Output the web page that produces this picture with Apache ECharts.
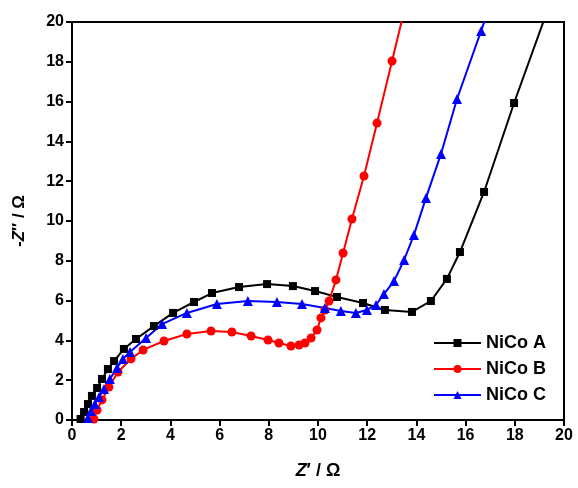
<!DOCTYPE html>
<html><head><meta charset="utf-8">
<script src="https://cdn.jsdelivr.net/npm/echarts@6/dist/echarts.min.js"></script>
<style>html,body{margin:0;padding:0;background:#fff}#c{width:578px;height:488px}</style>
</head><body><div id="c"></div>
<script>
var seriesNames = ['NiCo A', 'NiCo B', 'NiCo C'];
var xTicks = [0, 2, 4, 6, 8, 10, 12, 14, 16, 18, 20];
var yTicks = [0, 2, 4, 6, 8, 10, 12, 14, 16, 18, 20];

var nicoA_x = [0.35,0.49,0.65,0.81,1.02,1.22,1.46,1.71,2.11,2.60,3.33,4.11,4.96,5.69,6.79,7.93,8.98,9.88,10.77,11.83,12.72,13.82,14.59,15.24,15.77,16.75,17.97,19.45];
var nicoA_y = [0.05,0.40,0.80,1.21,1.61,2.06,2.56,2.96,3.57,4.07,4.72,5.38,5.93,6.38,6.68,6.83,6.73,6.48,6.18,5.88,5.53,5.43,5.98,7.09,8.44,11.46,15.93,21.0];

var nicoB_x = [0.89,1.02,1.22,1.50,1.87,2.40,2.89,3.74,4.67,5.65,6.50,7.28,7.97,8.41,8.90,9.23,9.47,9.72,9.96,10.12,10.28,10.45,10.73,11.02,11.38,11.87,12.40,13.01,13.55];
var nicoB_y = [0.05,0.50,1.01,1.66,2.41,3.07,3.52,3.97,4.32,4.47,4.42,4.22,4.02,3.87,3.72,3.77,3.87,4.12,4.52,5.13,5.53,5.98,7.04,8.39,10.10,12.26,14.92,18.04,20.8];

var nicoC_x = [0.65,0.77,0.93,1.10,1.30,1.54,1.83,2.07,2.36,3.01,3.66,4.67,5.89,7.15,8.33,9.35,10.28,10.93,11.54,11.99,12.36,12.68,13.09,13.50,13.90,14.39,15.00,15.65,16.63,17.0];
var nicoC_y = [0.10,0.45,0.80,1.16,1.56,2.06,2.61,3.07,3.42,4.12,4.82,5.38,5.83,5.98,5.93,5.83,5.63,5.48,5.38,5.53,5.78,6.33,6.98,8.04,9.30,11.16,13.37,16.13,19.55,20.85];

function pairs(xs, ys){ return xs.map(function(x,i){ return [x, ys[i]]; }); }

var chart = echarts.init(document.getElementById('c'), null, {renderer:'canvas'});
var font = 'Liberation Sans, Arial, sans-serif';
var axisCommon = {
  min: 0, max: 20, interval: 2,
  axisLine: {show: true, onZero: false, lineStyle: {color: '#000', width: 2}},
  axisTick: {show: true, inside: false, length: 6, lineStyle: {color: '#000', width: 2}},
  axisLabel: {color: '#000', fontSize: 16, fontWeight: 'bold', fontFamily: font, margin: 8},
  splitLine: {show: false}
};
function mk(name, xs, ys, color, symbol, size){
  return {
    name: name, type: 'line', data: pairs(xs, ys),
    symbol: symbol, symbolSize: size, showSymbol: true,
    clip: true,
    lineStyle: {color: color, width: 2},
    itemStyle: {color: color},
    emphasis: {disabled: true},
    animation: false
  };
}
chart.setOption({
  backgroundColor: '#fff',
  animation: false,
  grid: {left: 72, right: 14, top: 22, bottom: 68, show: true, borderColor: '#000', borderWidth: 2, backgroundColor: 'transparent'},
  legend: {
    orient: 'vertical', left: 433, top: 334, padding: 0,
    itemWidth: 47, itemHeight: 10, itemGap: 8,
    textStyle: {color: '#000', fontSize: 18, fontWeight: 'bold', fontFamily: font},
    data: seriesNames
  },
  xAxis: Object.assign({}, axisCommon, {
    type: 'value',
    name: '{i|Z}′ / Ω', nameLocation: 'middle', nameGap: 42,
    nameTextStyle: {color: '#000', fontSize: 18, fontWeight: 'bold', fontFamily: font,
      rich: {i: {fontStyle: 'italic', fontSize: 18, fontWeight: 'bold', fontFamily: font, color: '#000'}}}
  }),
  yAxis: Object.assign({}, axisCommon, {
    type: 'value',
    name: '-{i|Z}″ / Ω', nameLocation: 'middle', nameGap: 44, nameRotate: 90,
    nameTextStyle: {color: '#000', fontSize: 17, fontWeight: 'bold', fontFamily: font,
      rich: {i: {fontStyle: 'italic', fontSize: 17, fontWeight: 'bold', fontFamily: font, color: '#000'}}}
  }),
  series: [
    mk(seriesNames[0], nicoA_x, nicoA_y, '#000000', 'rect', 8),
    mk(seriesNames[1], nicoB_x, nicoB_y, '#ff0000', 'circle', 9),
    mk(seriesNames[2], nicoC_x, nicoC_y, '#0000ff', 'triangle', 10)
  ]
});
</script></body></html>
